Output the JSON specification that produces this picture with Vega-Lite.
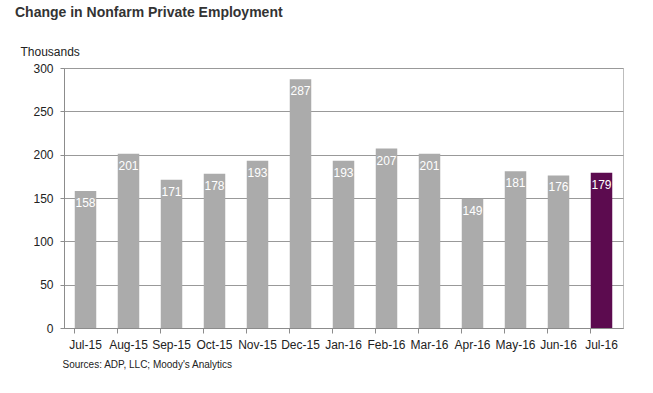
{
  "$schema": "https://vega.github.io/schema/vega-lite/v6.json",
  "width": 559,
  "height": 260,
  "autosize": {"type": "none"},
  "padding": {"left": 64, "top": 68, "right": 30, "bottom": 65},
  "background": "white",
  "title": {
    "text": "Change in Nonfarm Private Employment",
    "anchor": "start",
    "frame": "group",
    "font": "Liberation Sans",
    "fontSize": 14,
    "fontWeight": "bold",
    "color": "#333333",
    "dx": -49,
    "dy": -21
  },
  "config": {
    "font": "Liberation Sans",
    "view": {"stroke": "#bdbdbd", "strokeWidth": 1}
  },
  "data": {
    "values": [
      {"month": "Jul-15", "value": 158},
      {"month": "Aug-15", "value": 201},
      {"month": "Sep-15", "value": 171},
      {"month": "Oct-15", "value": 178},
      {"month": "Nov-15", "value": 193},
      {"month": "Dec-15", "value": 287},
      {"month": "Jan-16", "value": 193},
      {"month": "Feb-16", "value": 207},
      {"month": "Mar-16", "value": 201},
      {"month": "Apr-16", "value": 149},
      {"month": "May-16", "value": 181},
      {"month": "Jun-16", "value": 176},
      {"month": "Jul-16", "value": 179}
    ]
  },
  "encoding": {
    "x": {
      "field": "month",
      "type": "ordinal",
      "sort": null,
      "scale": {"paddingInner": 0.5, "paddingOuter": 0.25},
      "axis": {
        "labelAngle": 0,
        "labelFontSize": 12,
        "labelColor": "#222222",
        "labelPadding": 6,
        "bandPosition": 0,
        "tickSize": 5,
        "tickColor": "#8c8c8c",
        "domainColor": "#8c8c8c",
        "title": "Sources: ADP, LLC; Moody's Analytics",
        "titleFontSize": 10,
        "titleFontWeight": "normal",
        "titleColor": "#222222",
        "titleAnchor": "start",
        "titleAlign": "left",
        "titleX": -2,
        "titleY": 39,
        "titleBaseline": "alphabetic"
      }
    },
    "y": {
      "field": "value",
      "type": "quantitative",
      "scale": {"domain": [0, 300]},
      "axis": {
        "values": [0, 50, 100, 150, 200, 250, 300],
        "grid": true,
        "gridColor": "#999999",
        "domainColor": "#8c8c8c",
        "tickColor": "#8c8c8c",
        "tickSize": 4,
        "labelPadding": 7,
        "labelFontSize": 12,
        "labelColor": "#222222",
        "title": "Thousands",
        "titleAngle": 0,
        "titleAlign": "left",
        "titleX": -44,
        "titleY": -13,
        "titleBaseline": "alphabetic",
        "titleFontWeight": "normal",
        "titleFontSize": 12,
        "titleColor": "#222222"
      }
    }
  },
  "layer": [
    {
      "mark": {"type": "bar"},
      "encoding": {
        "color": {
          "condition": {"test": "datum.month === 'Jul-16'", "value": "#5c0b4f"},
          "value": "#ababab"
        }
      }
    },
    {
      "mark": {"type": "text", "baseline": "middle", "dy": 12, "fontSize": 12, "fill": "white"},
      "encoding": {"text": {"field": "value", "type": "quantitative"}}
    }
  ]
}
